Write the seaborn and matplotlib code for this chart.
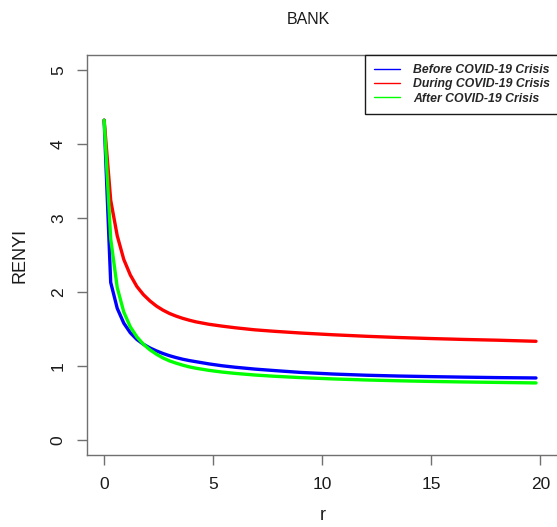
import matplotlib
matplotlib.use("Agg")
import matplotlib.pyplot as plt
from matplotlib.lines import Line2D
import pandas as pd
import seaborn as sns

# Renyi entropy of order r for the bank sector, three sub-periods
r_values = [0, 0.3, 0.6, 0.9, 1.2, 1.5, 1.8, 2.1, 2.4, 2.7, 3.0, 3.3, 3.6, 3.9,
            4.2, 4.8, 5.4, 6.0, 6.9, 7.8, 9.0, 10.5, 12.0, 13.5, 15.0, 16.5, 18.0, 19.8]
renyi_before = [4.32, 2.13, 1.78, 1.58, 1.45, 1.36, 1.295, 1.245, 1.205, 1.17, 1.14,
                1.115, 1.093, 1.075, 1.06, 1.03, 1.005, 0.985, 0.96, 0.94, 0.915,
                0.893, 0.877, 0.866, 0.858, 0.851, 0.845, 0.84]
renyi_during = [4.32, 3.24, 2.76, 2.44, 2.23, 2.075, 1.965, 1.88, 1.81, 1.755, 1.71,
                1.675, 1.645, 1.62, 1.598, 1.565, 1.54, 1.518, 1.49, 1.47, 1.447,
                1.423, 1.403, 1.386, 1.372, 1.36, 1.35, 1.335]
renyi_after = [4.32, 2.72, 2.06, 1.73, 1.53, 1.395, 1.295, 1.22, 1.16, 1.11, 1.07,
               1.04, 1.013, 0.99, 0.972, 0.943, 0.92, 0.902, 0.88, 0.863, 0.845,
               0.827, 0.813, 0.802, 0.793, 0.786, 0.78, 0.773]

periods = ["Before COVID-19 Crisis", "During COVID-19 Crisis", "After COVID-19 Crisis"]
period_colors = ["#0000ff", "#ff0000", "#00ff00"]
x_ticks = [0, 5, 10, 15, 20]
y_ticks = [0, 1, 2, 3, 4, 5]

frames = []
for name, vals in zip(periods, [renyi_before, renyi_during, renyi_after]):
    frames.append(pd.DataFrame({"r": r_values, "RENYI": vals, "period": name}))
df = pd.concat(frames, ignore_index=True)

sns.set_style("white")
plt.rcParams["font.family"] = ["Liberation Sans", "DejaVu Sans"]

W, H = 557, 527
fig = plt.figure(figsize=(W / 100, H / 100), dpi=100)
left, right, bottom, top = 86.7, 557.8, 455, 55
ax = fig.add_axes([left / W, (H - bottom) / H, (right - left) / W, (bottom - top) / H])

palette = dict(zip(periods, period_colors))
sns.lineplot(data=df, x="r", y="RENYI", hue="period", hue_order=periods,
             palette=palette, linewidth=2.4, sort=False, legend=False, ax=ax)

ax.set_xlim(-0.8, 20.8)
ax.set_ylim(-0.2, 5.2)
ax.set_xticks(x_ticks)
ax.set_yticks(y_ticks)
ax.set_xticklabels([str(t) for t in x_ticks])
ax.set_yticklabels([str(t) for t in y_ticks], rotation=90, va="center")

edge = "#707070"
for s in ax.spines.values():
    s.set_visible(True)
    s.set_color(edge)
    s.set_linewidth(1.0)

ax.tick_params(axis="both", which="major", direction="out", length=7, width=1.0,
               color=edge, labelsize=12.5, labelcolor="#1a1a1a")
ax.tick_params(axis="x", pad=9, bottom=True)
ax.tick_params(axis="y", pad=8, left=True)

ax.set_xlabel("r", fontsize=13, color="#1a1a1a", labelpad=11)
ax.set_ylabel("RENYI", fontsize=13, color="#1a1a1a", labelpad=16)

fig.text(308.5 / W, 1 - 20 / H, "BANK", ha="center", va="center",
         fontsize=11.5, color="#1a1a1a")

handles = [Line2D([0], [0], color=c, lw=1.0) for c in period_colors]
lx = (365 - left) / (right - left)
leg = ax.legend(handles, periods, loc="upper left", bbox_to_anchor=(lx, 1.0),
                borderaxespad=0, frameon=True, fancybox=False, framealpha=1,
                edgecolor="#1a1a1a", handlelength=2.1, handletextpad=1.1,
                labelspacing=0.18, borderpad=0.75,
                prop={"size": 8.8, "weight": "bold", "style": "italic"})
leg.get_frame().set_linewidth(1.0)

fig.savefig("out.png", dpi=100, facecolor="white")
